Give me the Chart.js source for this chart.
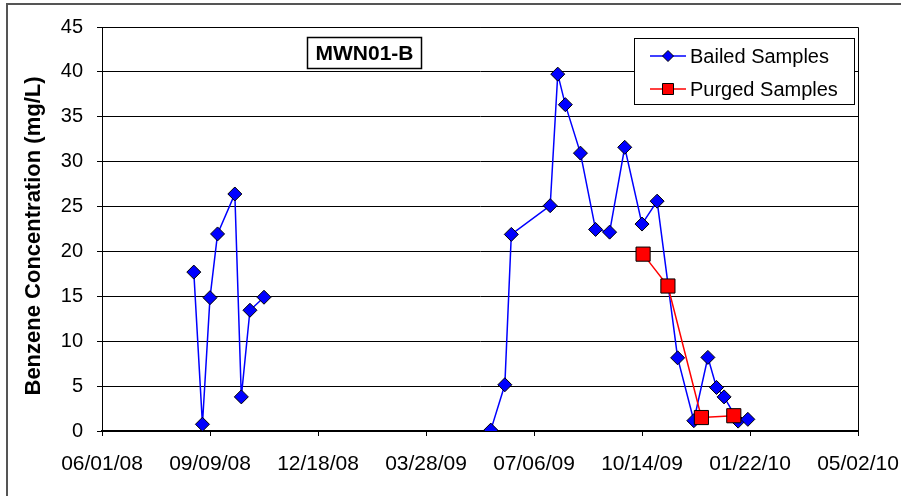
<!DOCTYPE html>
<html>
<head>
<meta charset="utf-8">
<title>MWN01-B Benzene</title>
<script src="https://cdn.jsdelivr.net/npm/chart.js@4"></script>
<style>
  body { margin: 0; background: #fff; }
  canvas { display: block; }
</style>
</head>
<body>
<canvas id="benzeneChart" width="901" height="496"></canvas>
<script>
// sample dates (MM/DD/YY) and benzene results in mg/L
const bailedDates = ['08/25/08', '09/02/08', '09/09/08', '09/16/08', '10/02/08', '10/08/08', '10/16/08', '10/29/08',
    '01/15/09',
    '05/27/09', '06/09/09', '06/15/09', '07/21/09', '07/28/09', '08/04/09', '08/18/09', '09/01/09', '09/14/09',
    '09/28/09', '10/14/09', '10/28/09', '11/16/09', '12/01/09', '12/14/09', '12/22/09', '12/29/09', '01/11/10', '01/20/10'];
const bailedValues = [17.7, 0.75, 14.85, 21.95, 26.4, 3.8, 13.45, 14.9,
    null,
    0.1, 5.15, 21.9, 25.1, 39.75, 36.35, 30.95, 22.45, 22.15,
    31.6, 23.05, 25.6, 8.15, 1.15, 8.2, 4.85, 3.8, 1.1, 1.3];

const purgedDates = ['10/15/09', '11/07/09', '12/08/09', '01/07/10'];
const purgedValues = [19.7, 16.15, 1.5, 1.7];

const xTickLabels = ['06/01/08', '09/09/08', '12/18/08', '03/28/09', '07/06/09', '10/14/09', '01/22/10', '05/02/10'];

const FONT = "'Liberation Sans', Arial, sans-serif";
const startDay = Date.UTC(2008, 5, 1);

// days since 06/01/08
function dayOf(s) {
    const [m, d, y] = s.split('/').map(Number);
    return (Date.UTC(2000 + y, m - 1, d) - startDay) / 86400000;
}

function toPoints(dates, values) {
    return dates.map((d, i) => ({ x: dayOf(d), y: values[i] }));
}

const decorations = {
    id: 'decorations',
    beforeDraw(chart) {
        const c = chart.ctx;
        c.save();
        c.fillStyle = '#fff';
        c.fillRect(0, 0, chart.width, chart.height);
        // outer frame (only left and top visible)
        c.strokeStyle = '#555';
        c.lineWidth = 2;
        c.beginPath();
        c.moveTo(7, chart.height);
        c.lineTo(7, 4);
        c.lineTo(chart.width, 4);
        c.stroke();
        c.restore();
    },
    afterDraw(chart) {
        const c = chart.ctx;
        const a = chart.chartArea;
        c.save();
        // plot border top and right
        c.strokeStyle = '#000';
        c.lineWidth = 1;
        c.beginPath();
        c.moveTo(a.left, a.top + 0.5);
        c.lineTo(a.right + 0.5, a.top + 0.5);
        c.lineTo(a.right + 0.5, a.bottom);
        c.stroke();

        // y axis title
        c.fillStyle = '#000';
        c.font = 'bold 22px ' + FONT;
        c.textAlign = 'center';
        c.textBaseline = 'middle';
        c.translate(34, 236);
        c.rotate(-Math.PI / 2);
        c.fillText('Benzene Concentration (mg/L)', 0, 0);
        c.setTransform(1, 0, 0, 1, 0, 0);

        // well id box
        c.fillStyle = '#fff';
        c.fillRect(307, 37, 115, 32);
        c.lineWidth = 1.5;
        c.strokeRect(307.5, 37.5, 114, 31);
        c.fillStyle = '#000';
        c.font = 'bold 21px ' + FONT;
        c.fillText('MWN01-B', 364.5, 54);

        // legend
        c.fillStyle = '#fff';
        c.fillRect(634, 38, 220, 67);
        c.lineWidth = 1;
        c.strokeStyle = '#000';
        c.strokeRect(634.5, 38.5, 220, 66);
        const rows = [
            { label: 'Bailed Samples', color: '#0000ff', shape: 'diamond', y: 56 },
            { label: 'Purged Samples', color: '#ff0000', shape: 'square', y: 89 }
        ];
        rows.forEach(r => {
            c.strokeStyle = r.color;
            c.lineWidth = 1.5;
            c.beginPath();
            c.moveTo(650, r.y);
            c.lineTo(686, r.y);
            c.stroke();
            c.fillStyle = r.color;
            c.strokeStyle = '#000';
            c.lineWidth = 1;
            c.beginPath();
            if (r.shape === 'diamond') {
                c.moveTo(668, r.y - 5.5);
                c.lineTo(673.5, r.y);
                c.lineTo(668, r.y + 5.5);
                c.lineTo(662.5, r.y);
                c.closePath();
            } else {
                c.rect(662.5, r.y - 5.5, 11, 11);
            }
            c.fill();
            c.stroke();
            c.fillStyle = '#000';
            c.font = '20px ' + FONT;
            c.textAlign = 'left';
            c.fillText(r.label, 690, r.y + 1);
        });
        c.restore();
    }
};

const ctx = document.getElementById('benzeneChart').getContext('2d');

const data = {
    datasets: [{
        label: 'Bailed Samples',
        data: toPoints(bailedDates, bailedValues),
        borderColor: '#0000ff',
        borderWidth: 1.5,
        backgroundColor: '#0000ff',
        pointStyle: 'rectRot',
        pointRadius: 7,
        pointBorderColor: '#000',
        pointBorderWidth: 1,
        spanGaps: false,
        order: 2
    }, {
        label: 'Purged Samples',
        data: toPoints(purgedDates, purgedValues),
        borderColor: '#ff0000',
        borderWidth: 1.5,
        backgroundColor: '#ff0000',
        pointStyle: 'rect',
        pointRadius: 10,
        pointBorderColor: '#000',
        pointBorderWidth: 1,
        order: 1
    }]
};

const config = {
    type: 'line',
    data: data,
    options: {
        responsive: false,
        animation: false,
        layout: { padding: { left: 0, right: 43, top: 27, bottom: 0 } },
        plugins: {
            legend: { display: false },
            tooltip: { enabled: false }
        },
        scales: {
            x: {
                type: 'linear',
                min: 0,
                max: 700,
                afterFit(scale) {
                    scale.height = 65;
                    scale.paddingLeft = 0;
                    scale.paddingRight = 0;
                },
                afterBuildTicks(scale) {
                    scale.ticks = xTickLabels.map((t, i) => ({ value: i * 100 }));
                },
                ticks: {
                    color: '#000',
                    font: { family: FONT, size: 21 },
                    padding: 16,
                    maxRotation: 0,
                    autoSkip: false,
                    callback: (v) => xTickLabels[Math.round(v / 100)]
                },
                grid: {
                    drawOnChartArea: false,
                    drawTicks: true,
                    tickLength: 5,
                    color: '#000'
                },
                border: { color: '#000', width: 2 }
            },
            y: {
                min: 0,
                max: 45,
                afterFit(scale) { scale.width = 102; },
                ticks: {
                    stepSize: 5,
                    color: '#000',
                    font: { family: FONT, size: 20 },
                    padding: 14
                },
                grid: {
                    color: '#000',
                    lineWidth: 1,
                    tickLength: 5
                },
                border: { color: '#000', width: 1 }
            }
        }
    },
    plugins: [decorations]
};

const benzeneChart = new Chart(ctx, config);
</script>
</body>
</html>
